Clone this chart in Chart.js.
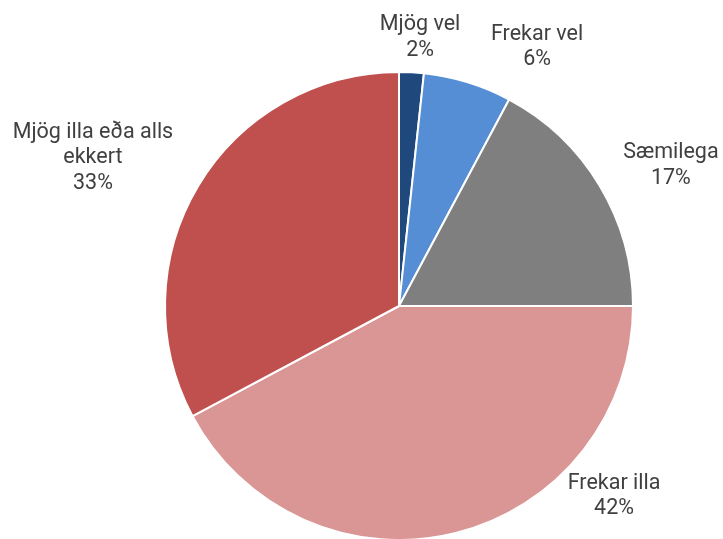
<!DOCTYPE html>
<html>
<head>
<meta charset="utf-8">
<script src="https://cdn.jsdelivr.net/npm/chart.js@4/dist/chart.umd.min.js"></script>
<style>
  html, body { margin: 0; padding: 0; background: #fff; }
  #wrap { width: 723px; height: 539px; }
</style>
</head>
<body>
<div id="wrap"><canvas id="pieChart" width="723" height="539"></canvas></div>
<script>
// Data
const categories = ['Mjög vel', 'Frekar vel', 'Sæmilega', 'Frekar illa', 'Mjög illa eða alls ekkert'];
const shares = [1.7, 6.1, 17.2, 42.2, 32.8];
const sliceColors = ['#1F497D', '#558ED5', '#7F7F7F', '#D99694', '#C0504D'];

// Label anchors relative to the pie centre, in units of the radius (first baseline)
const labelAnchors = [
    [0.090, -1.179],
    [0.590, -1.137],
    [1.162, -0.632],
    [0.919, 0.782],
    [-1.308, -0.718]
];

// Wrap a label into lines no wider than maxWidth
function wrapText(ctx, text, maxWidth) {
    const words = text.split(' ');
    const lines = [];
    let line = '';
    words.forEach(w => {
        const test = line ? line + ' ' + w : w;
        if (line && ctx.measureText(test).width > maxWidth) {
            lines.push(line);
            line = w;
        } else {
            line = test;
        }
    });
    if (line) lines.push(line);
    return lines;
}

// Draw category + percent outside each slice
const outsideLabels = {
    id: 'outsideLabels',
    afterDatasetsDraw(chart, args, opts) {
        const ctx = chart.ctx;
        const meta = chart.getDatasetMeta(0);
        const total = shares.reduce((a, b) => a + b, 0);
        ctx.save();
        ctx.font = opts.font;
        ctx.fillStyle = opts.color;
        ctx.textAlign = 'center';
        ctx.textBaseline = 'alphabetic';
        meta.data.forEach((arc, i) => {
            const r = arc.outerRadius;
            const x = arc.x + labelAnchors[i][0] * r;
            let y = arc.y + labelAnchors[i][1] * r;
            const pct = Math.round(shares[i] / total * 100) + '%';
            const lines = wrapText(ctx, categories[i], opts.maxWidth).concat([pct]);
            lines.forEach(l => {
                ctx.fillText(l, x, y);
                y += opts.lineHeight;
            });
        });
        ctx.restore();
    }
};

const ctx = document.getElementById('pieChart');
new Chart(ctx.getContext('2d'), {
    type: 'pie',
    data: {
        labels: categories,
        datasets: [{
            data: shares,
            backgroundColor: sliceColors,
            borderColor: '#ffffff',
            borderWidth: 2
        }]
    },
    options: {
        responsive: false,
        animation: false,
        radius: 234,
        layout: { padding: { left: 165, right: 90, top: 73, bottom: 0 } },
        plugins: {
            legend: { display: false },
            tooltip: { enabled: false },
            outsideLabels: {
                font: '21.5px Roboto',
                color: '#404040',
                lineHeight: 25.5,
                maxWidth: 185
            }
        }
    },
    plugins: [outsideLabels]
});
</script>
</body>
</html>
